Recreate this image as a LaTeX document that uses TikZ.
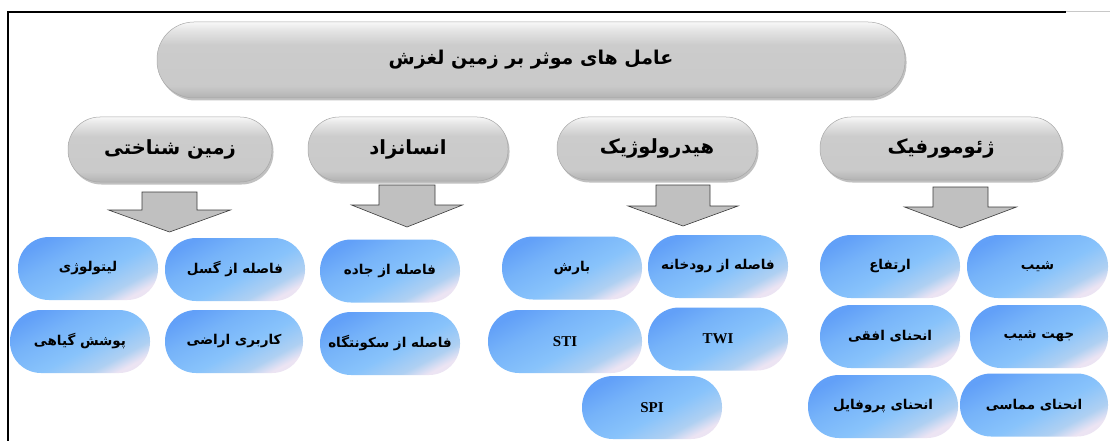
\documentclass[tikz,border=0pt]{standalone}
\usepackage{fontspec}
\setmainfont{Liberation Serif}
\newfontfamily\fa[Script=Arabic]{DejaVu Sans}
\TeXXeTstate=1
\usetikzlibrary{shadows}
\definecolor{framegray}{HTML}{C8C8C8}
\definecolor{arrowfill}{HTML}{C0C0C0}
\definecolor{arrowline}{HTML}{3C3C3C}
\definecolor{pillline}{HTML}{A8A8A8}
\pgfdeclareverticalshading{graypill}{100bp}{color(0bp)=(black!30); color(25bp)=(black!30); color(33bp)=(black!21); color(60bp)=(black!20); color(70bp)=(black!10); color(75bp)=(black!3); color(100bp)=(black!3)}
\definecolor{bA}{HTML}{62A0F8}
\definecolor{bA2}{HTML}{76B3F9}
\definecolor{bB}{HTML}{88C3FB}
\definecolor{bC}{HTML}{AFD0F2}
\definecolor{bD}{HTML}{ECE4F3}
\pgfdeclareverticalshading{bluepill}{100bp}{color(0bp)=(bD); color(25bp)=(bD); color(32bp)=(bC); color(45bp)=(bB); color(62bp)=(bA2); color(75bp)=(bA); color(100bp)=(bA)}
\tikzset{
  graybox/.style={draw=pillline, line width=0.5pt, shading=graypill,
    drop shadow={shadow xshift=1.5pt, shadow yshift=-2.5pt, opacity=.35, fill=black!70},
    inner sep=0pt, align=center, font=\fa\bfseries\fontsize{19.5}{22}\selectfont},
  bluebox/.style={shading=bluepill, shading angle=28, inner sep=0pt, align=center,
    minimum height=63pt, rounded corners=31pt, font=\fa\bfseries\fontsize{13.5}{15}\selectfont},
  latinbox/.style={bluebox, font=\bfseries\fontsize{15}{17}\selectfont},
  barrow/.style={fill=arrowfill, draw=arrowline, line width=0.6pt, line join=miter},
  frameline/.style={line width=1.2pt, draw=black}
}
\newcommand\mkarrow[6]{%
  \draw[barrow] (#1-#3,#2) -- (#1+#3,#2) -- (#1+#3,#5) -- (#1+#4,#5) -- (#1,#6) -- (#1-#4,#5) -- (#1-#3,#5) -- cycle;}
\begin{document}
\begin{tikzpicture}[x=1pt,y=-1pt]
\useasboundingbox (0,0) rectangle (1110,441);
\fill[white] (0,0) rectangle (1110,441);
% frame
\draw[frameline] (8,441) -- (8,12) -- (1066,12);
\draw[framegray, line width=0.8pt] (1066,11.5) -- (1110,11.5);
% title
\node[graybox, minimum width=748pt, minimum height=76pt, rounded corners=37pt,
  font=\fa\bfseries\fontsize{19}{22}\selectfont] (title) at (531,60) {\beginR عامل های موثر بر زمین لغزش\endR};
% categories
\node[graybox, minimum width=242pt, minimum height=63pt, rounded corners=31pt] (geo) at (941,148.5) {\beginR ژئومورفیک\endR};
\node[graybox, minimum width=200pt, minimum height=63pt, rounded corners=31pt] (hyd) at (657,148.5) {\beginR هیدرولوژیک\endR};
\node[graybox, minimum width=200pt, minimum height=64pt, rounded corners=31pt] (ens) at (408,149) {\beginR انسانزاد\endR};
\node[graybox, minimum width=204pt, minimum height=65pt, rounded corners=32pt] (zam) at (170,149.5) {\beginR زمین شناختی\endR};
% block arrows
\mkarrow{169.5}{192}{27.5}{61}{210}{232}
\mkarrow{407}{185}{28}{55.5}{205}{227}
\mkarrow{683}{185}{27}{55}{206}{226}
\mkarrow{960.5}{187}{27.5}{56}{207}{228}
% zamin shenakhti
\node[bluebox, minimum width=140pt] (litho) at (88,268.5) {\beginR لیتولوژی\endR};
\node[bluebox, minimum width=140pt] (gosl) at (235,269.5) {\beginR فاصله از گسل\endR};
\node[bluebox, minimum width=140pt] (veg) at (80,341.5) {\beginR پوشش گیاهی\endR};
\node[bluebox, minimum width=138pt] (land) at (234,341.5) {\beginR کاربری اراضی\endR};
% ensanzad
\node[bluebox, minimum width=140pt] (jadeh) at (390,271) {\beginR فاصله از جاده\endR};
\node[bluebox, minimum width=140pt] (sokoon) at (390,343.5) {\beginR فاصله از سکونتگاه\endR};
% hydrologic
\node[bluebox, minimum width=140pt] (barsh) at (572,268) {\beginR بارش\endR};
\node[bluebox, minimum width=140pt] (rood) at (718,266.5) {\beginR فاصله از رودخانه\endR};
\node[latinbox, minimum width=154pt] (sti) at (565,341.5) {STI};
\node[latinbox, minimum width=140pt] (twi) at (718,339) {TWI};
\node[latinbox, minimum width=140pt] (spi) at (652,407.5) {SPI};
% geomorphic
\node[bluebox, minimum width=140pt] (ertefa) at (890,266.5) {\beginR ارتفاع\endR};
\node[bluebox, minimum width=141pt] (shib) at (1037.5,266.5) {\beginR شیب\endR};
\node[bluebox, minimum width=140pt] (ofoghi) at (890,336.5) {\beginR انحنای افقی\endR};
\node[bluebox, minimum width=138pt] (jahat) at (1039,336.5) {\beginR جهت شیب\endR};
\node[bluebox, minimum width=150pt] (profile) at (883,406.5) {\beginR انحنای پروفایل\endR};
\node[bluebox, minimum width=148pt] (momasi) at (1034,405) {\beginR انحنای مماسی\endR};
\end{tikzpicture}
\end{document}
